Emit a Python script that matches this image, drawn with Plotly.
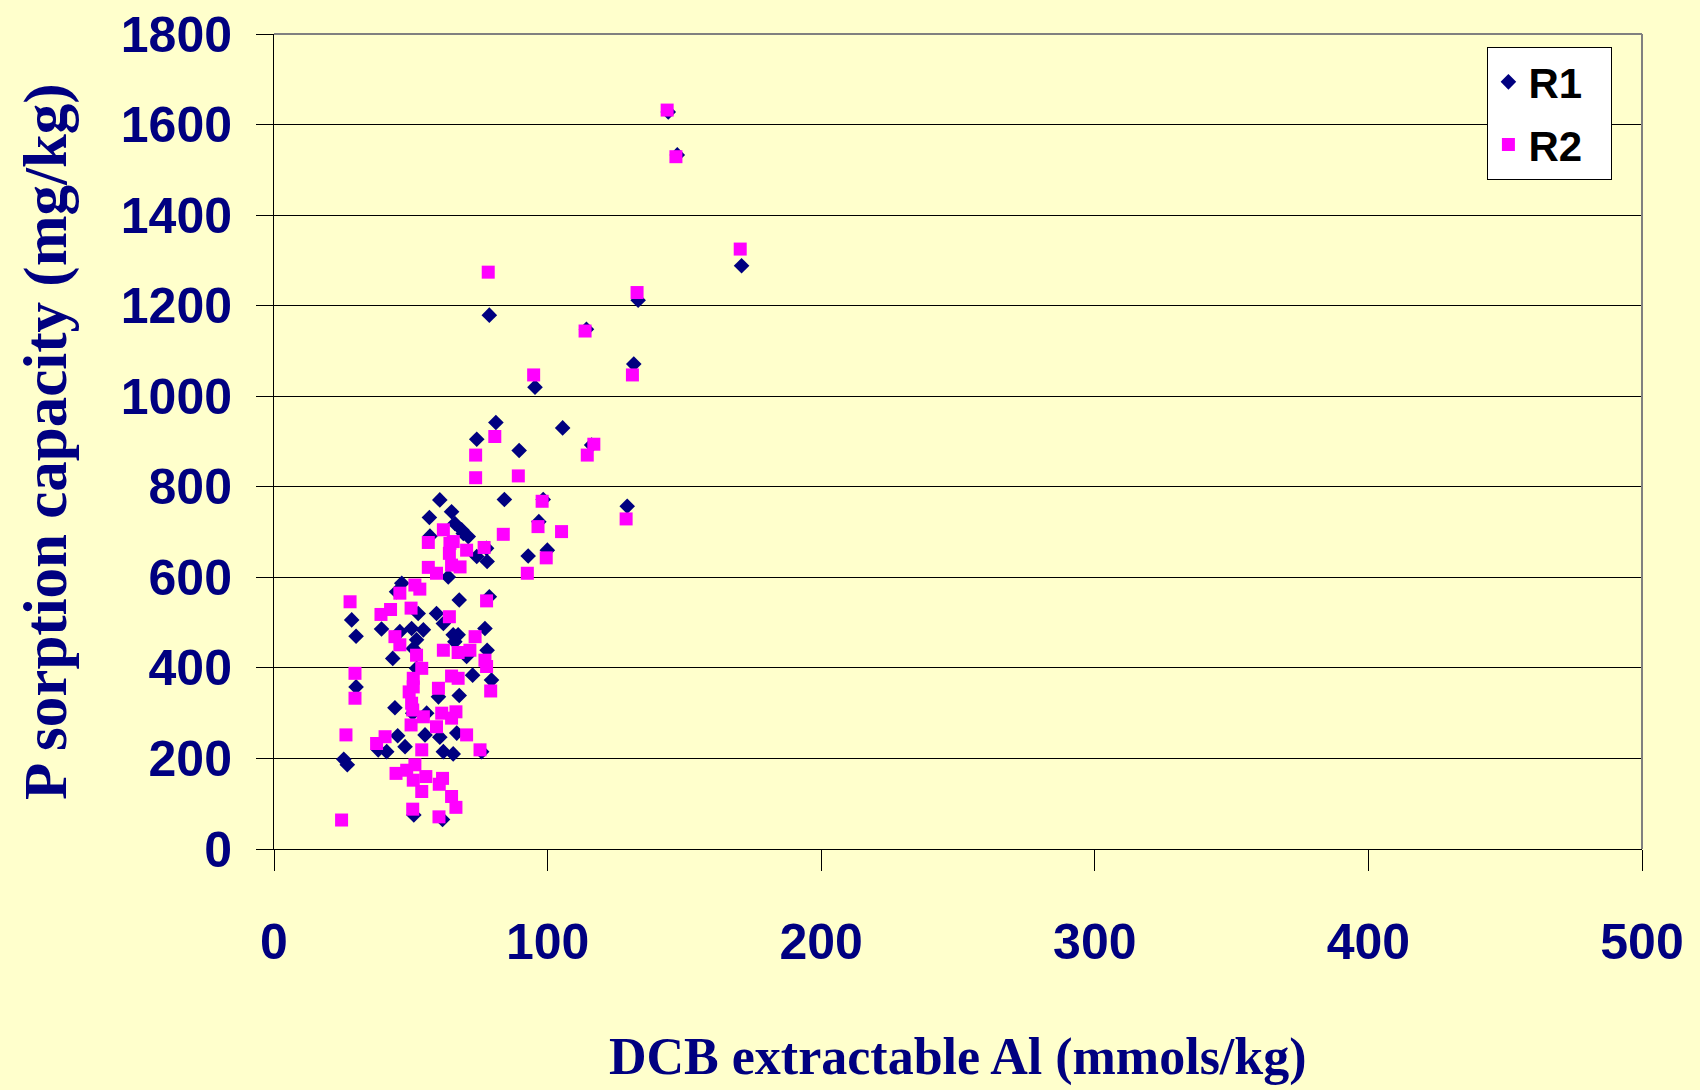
import plotly.graph_objects as go

# R1 series (DCB extractable Al, P sorption capacity)
r1_x = [144.1, 147.4, 170.9, 78.7, 133.1, 114.2, 131.5, 95.4, 81.1, 74.1,
        89.6, 105.5, 116.1, 84.2, 98.4, 129.1, 96.8, 99.9, 92.9, 64.9,
        66.1, 69.2, 71.0, 77.7, 74.1, 77.9, 60.6, 56.8, 68.6, 57.0,
        63.7, 46.7, 44.8, 67.7, 78.7, 52.7, 59.4, 61.9, 28.4, 39.3,
        30.0, 46.0, 50.3, 54.6, 52.1, 77.1, 67.3, 66.1, 43.4, 50.9,
        77.9, 70.4, 52.1, 72.6, 79.5, 30.0, 60.1, 67.7, 44.2, 55.8,
        66.8, 45.2, 55.2, 60.6, 47.9, 38.1, 41.2, 61.9, 65.5, 75.9,
        25.5, 26.8, 51.1, 61.6, 50.7, 65.5]
r1_y = [1628, 1533, 1288, 1179, 1212, 1148, 1071, 1020, 942, 905,
        880, 930, 892, 772, 772, 757, 723, 660, 647, 745,
        719, 697, 690, 664, 646, 635, 771, 732, 705, 691,
        601, 587, 568, 550, 557, 520, 520, 498, 506, 486,
        470, 480, 487, 484, 462, 487, 473, 458, 421, 443,
        439, 425, 399, 384, 373, 358, 336, 339, 312, 300,
        256, 250, 252, 247, 226, 219, 215, 215, 210, 215,
        198, 186, 75, 65, 300, 473]

# R2 series
r2_x = [143.7, 146.9, 170.4, 78.3, 132.7, 113.7, 131.0, 94.9, 73.7, 73.7,
        80.7, 89.3, 116.9, 114.5, 98.0, 128.7, 96.5, 105.1, 83.8, 99.5,
        92.6, 70.4, 76.8, 68.0, 65.5, 61.9, 56.4, 64.3, 64.1, 56.4,
        59.4, 64.9, 51.5, 53.3, 46.0, 77.7, 27.8, 50.1, 42.6, 39.1,
        64.1, 44.2, 46.0, 73.5, 61.9, 67.3, 71.6, 52.1, 77.1, 77.7,
        54.0, 29.6, 64.9, 67.3, 50.9, 50.9, 60.1, 79.2, 49.4, 29.6,
        50.3, 50.7, 61.3, 66.5, 54.6, 64.9, 50.1, 59.4, 70.4, 26.3,
        40.6, 37.5, 54.0, 75.3, 51.5, 44.6, 48.5, 50.9, 55.5, 61.6,
        60.4, 54.0, 64.9, 66.5, 50.7, 60.3, 24.7]
r2_y = [1632, 1529, 1325, 1274, 1229, 1144, 1047, 1047, 870, 820,
        911, 824, 894, 870, 768, 729, 712, 701, 695, 643,
        609, 660, 666, 623, 679, 705, 677, 675, 653, 622,
        609, 627, 583, 574, 565, 548, 546, 532, 529, 518,
        513, 469, 451, 469, 439, 434, 439, 428, 417, 403,
        399, 388, 382, 377, 377, 358, 355, 349, 347, 333,
        322, 307, 300, 303, 292, 289, 274, 270, 252, 252,
        248, 233, 219, 219, 186, 167, 174, 152, 160, 156,
        143, 127, 116, 92, 88, 71, 64]

x_ticks = [0, 100, 200, 300, 400, 500]
y_ticks = [0, 200, 400, 600, 800, 1000, 1200, 1400, 1600, 1800]

NAVY = "#000080"
BG = "#FFFFCC"
SANS = "Liberation Sans, Arial, sans-serif"
SERIF = "Liberation Serif, Times New Roman, serif"
TICK_FONT = dict(family=SANS, size=50, color=NAVY, weight="bold")

fig = go.Figure()
fig.add_trace(go.Scatter(x=r1_x, y=r1_y, mode="markers", name="R1\u00a0\u00a0",
                         legendgroup="r1",
                         marker=dict(symbol="diamond", size=12, color=NAVY,
                                     line=dict(width=0))))
fig.add_trace(go.Scatter(x=r2_x, y=r2_y, mode="markers", name="R2\u00a0\u00a0",
                         legendgroup="r2",
                         marker=dict(symbol="square", size=13, color="#FF00FF",
                                     line=dict(width=0))))

fig.update_layout(
    width=1700, height=1090,
    margin=dict(l=274, r=58, t=34, b=241, autoexpand=False),
    paper_bgcolor=BG, plot_bgcolor=BG,
    showlegend=True,
    legend=dict(x=0.887, y=0.984, xanchor="left", yanchor="top",
                bgcolor="white", bordercolor="black", borderwidth=1,
                font=dict(family=SANS, size=42, color="black", weight="bold"),
                itemwidth=30, tracegroupgap=5),
    xaxis=dict(range=[0, 500], tickvals=x_ticks, ticks="outside", ticklen=21,
               tickcolor="black", tickwidth=1, showline=True, linecolor="black",
               linewidth=1, showgrid=False, zeroline=False, tickfont=TICK_FONT,
               ticklabelstandoff=28, automargin=False),
    yaxis=dict(range=[0, 1800], tickvals=y_ticks, ticks="outside", ticklen=17,
               tickcolor="black", tickwidth=1, showline=True, linecolor="black",
               linewidth=1, showgrid=True, gridcolor="black", gridwidth=1,
               zeroline=False, tickfont=TICK_FONT, ticklabelstandoff=14,
               automargin=False),
    shapes=[
        dict(type="line", xref="paper", yref="paper", x0=0, x1=1, y0=1, y1=1,
             line=dict(color="#808080", width=2)),
        dict(type="line", xref="paper", yref="paper", x0=1, x1=1, y0=0, y1=1,
             line=dict(color="#808080", width=2)),
    ],
    annotations=[
        dict(text="DCB extractable Al (mmols/kg)", xref="paper", yref="paper",
             x=0.5, y=-0.255, xanchor="center", yanchor="middle",
             showarrow=False, font=dict(family=SERIF, size=52, color=NAVY, weight="bold")),
        dict(text="P sorption capacity (mg/kg)", xref="paper", yref="paper",
             x=-0.167, y=0.5, xanchor="center", yanchor="middle",
             textangle=-90, showarrow=False,
             font=dict(family=SERIF, size=61, color=NAVY, weight="bold")),
    ],
)

fig.write_html("out.html")
